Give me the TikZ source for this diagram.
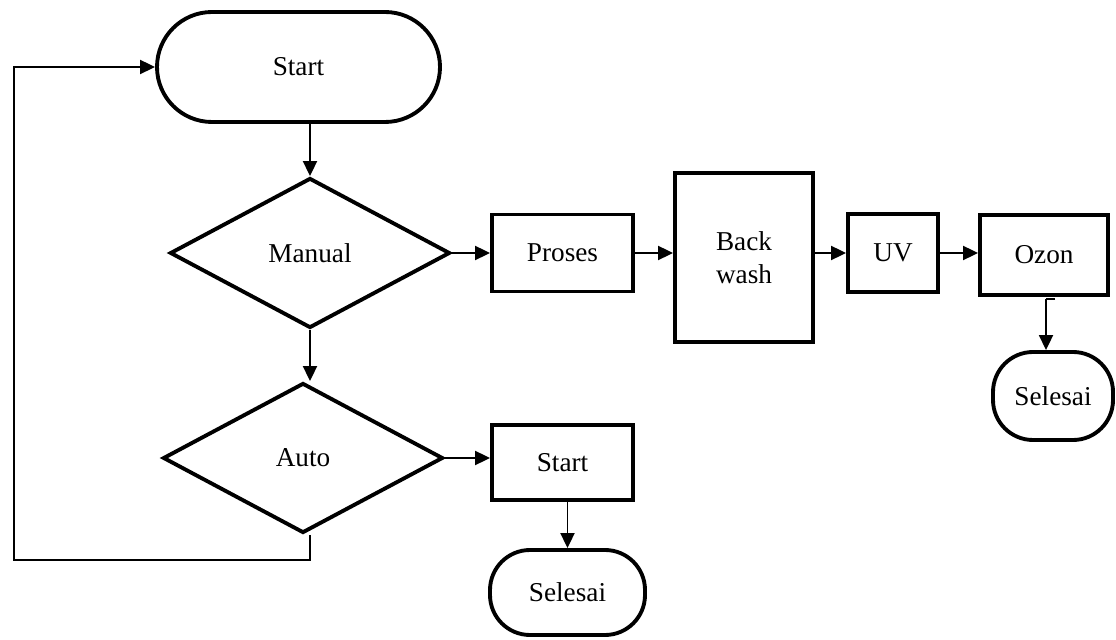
\documentclass[tikz,border=0pt]{standalone}
\usepackage{fontspec}
\setmainfont{Liberation Serif}
\usepackage{tikz}
\usetikzlibrary{shapes.geometric}
\usetikzlibrary{arrows.meta}

\begin{document}
\begin{tikzpicture}[
  every node/.style={font=\fontsize{15.5}{19}\selectfont},
  terminal/.style={draw, line width=2.2pt, inner sep=0pt, rounded corners=0.8cm},
  decision/.style={draw, diamond, line width=2.2pt, inner sep=0pt},
  process/.style={draw, rectangle, line width=2.2pt, inner sep=0pt, align=center},
  flow/.style={line width=1.1pt, -{Triangle[length=0.3cm, width=0.28cm]}}
]
\useasboundingbox (0,0) rectangle (22.32,-12.8);

% main branch
\node[terminal, rounded corners=1.1cm, minimum width=5.66cm, minimum height=2.2cm] (start) at (5.97,-1.34) {Start};
\node[decision, minimum width=5.6cm, minimum height=3cm] (manual) at (6.2,-5.06) {Manual};
\node[decision, minimum width=5.6cm, minimum height=3cm] (auto) at (6.06,-9.16) {Auto};

% manual branch
\node[process, minimum width=2.82cm, minimum height=1.54cm] (proses) at (11.25,-5.06) {Proses};
\node[process, minimum width=2.76cm, minimum height=3.38cm] (backwash) at (14.88,-5.15) {Back\\wash};
\node[process, minimum width=1.8cm, minimum height=1.56cm] (uv) at (17.86,-5.06) {UV};
\node[process, minimum width=2.56cm, minimum height=1.6cm] (ozon) at (20.88,-5.1) {Ozon};
\node[terminal, minimum width=2.4cm, minimum height=1.76cm] (selesaiA) at (21.06,-7.92) {Selesai};

% auto branch
\node[process, minimum width=2.82cm, minimum height=1.5cm] (startB) at (11.25,-9.25) {Start};
\node[terminal, minimum width=3.1cm, minimum height=1.7cm] (selesaiB) at (11.35,-11.85) {Selesai};

\coordinate (loop) at (0.28,-11.2);
\coordinate (ozonhook) at (21.1,-5.98);

\draw[flow] (manual.north |- start.south) -- (manual.north);
\draw[flow] (manual.south) -- (manual.south |- auto.north);
\draw[flow] (manual) -- (proses);
\draw[flow] (proses.east) -- (proses.east -| backwash.west);
\draw[flow] (uv.west -| backwash.east) -- (uv.west);
\draw[flow] (uv.east) -- (uv.east -| ozon.west);
\draw[line width=1.1pt] (ozonhook) -- ++(-0.18,0);
\draw[flow] ([xshift=-0.18cm]ozonhook) -- ([xshift=-0.18cm]ozonhook |- selesaiA.north);
\draw[flow] (auto.east) -- (auto.east -| startB.west);
\draw[flow] (startB.south -| selesaiB.north) -- (selesaiB.north);
\draw[flow] (manual.south |- auto.south) |- (loop) |- (start.west);
\end{tikzpicture}
\end{document}
